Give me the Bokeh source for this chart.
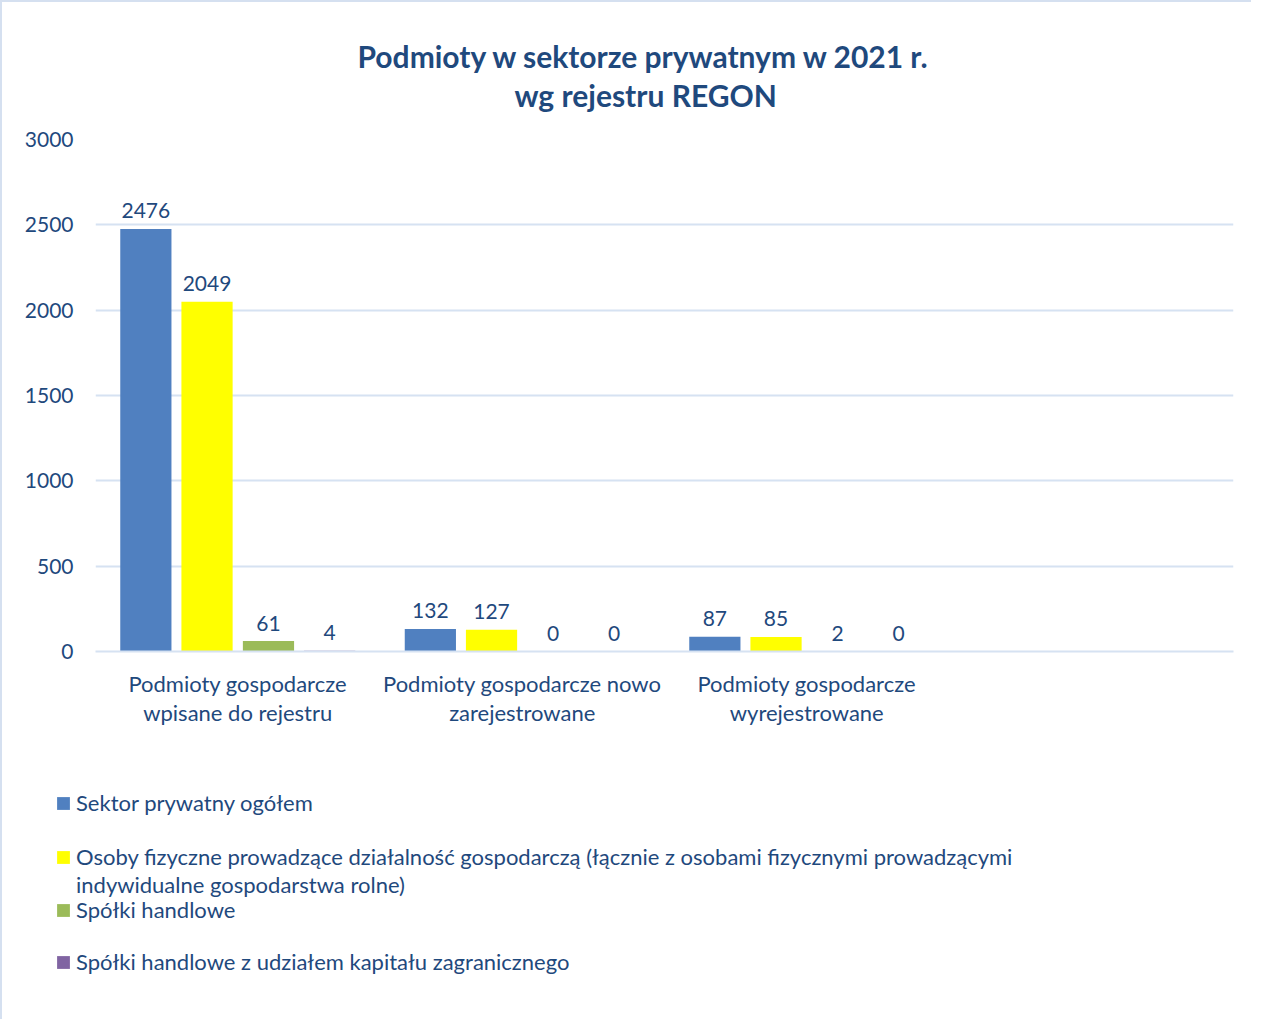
from bokeh.plotting import figure
from bokeh.layouts import column
from bokeh.models import ColumnDataSource, FactorRange, Legend, LegendItem, Title, FixedTicker
from bokeh.transform import dodge
from bokeh.core.properties import value
from bokeh.embed import file_html
from bokeh.resources import INLINE

# ---- data ----
categories = [
    "Podmioty gospodarcze\nwpisane do rejestru",
    "Podmioty gospodarcze nowo\nzarejestrowane",
    "Podmioty gospodarcze\nwyrejestrowane",
    " ",
]
series_names = [
    "Sektor prywatny ogółem",
    "Osoby fizyczne prowadzące działalność gospodarczą (łącznie z osobami fizycznymi prowadzącymi\nindywidualne gospodarstwa rolne)",
    "Spółki handlowe",
    "Spółki handlowe z udziałem kapitału zagranicznego",
]
sektor_ogolem = [2476, 132, 87]
osoby_fizyczne = [2049, 127, 85]
spolki_handlowe = [61, 0, 2]
spolki_zagraniczne = [4, 0, 0]
y_ticks = [0, 500, 1000, 1500, 2000, 2500, 3000]
title_lines = ["Podmioty w sektorze prywatnym w 2021 r.", "wg rejestru REGON"]

series_values = [sektor_ogolem, osoby_fizyczne, spolki_handlowe, spolki_zagraniczne]
colors = ["#5080C0", "#FFFF00", "#9BBB59", "#8064A2"]
offsets = [-0.323, -0.108, 0.108, 0.323]

TXT = "#1F497D"
GRID = "#D6E2F2"
BORDER = "2px solid #D5E0F0"
FONT = "Lato"

p = figure(
    x_range=FactorRange(*categories),
    y_range=(0, 3000),
    width=1251, height=749,
    output_backend="svg", toolbar_location=None,
    min_border_left=93, min_border_right=20,
    min_border_top=137, min_border_bottom=100,
)
p.styles = {"border-top": BORDER, "border-left": BORDER}
p.outline_line_color = None
p.background_fill_color = "white"
p.border_fill_color = "white"

# titles: a spacer next to the frame, then line 2, then line 1 on top
p.add_layout(Title(text=" ", text_font_size="1px", standoff=24), "above")
p.add_layout(Title(text=title_lines[1], align="left", offset=419, text_font=FONT,
                   text_font_size="30px", text_font_style="bold", text_color=TXT,
                   standoff=0), "above")
p.add_layout(Title(text=title_lines[0], align="left", offset=262, text_font=FONT,
                   text_font_size="30px", text_font_style="bold", text_color=TXT,
                   standoff=2), "above")

for vals, col, off in zip(series_values, colors, offsets):
    src = ColumnDataSource(dict(cat=categories[:len(vals)], val=vals,
                                lab=[str(v) for v in vals]))
    p.vbar(x=dodge("cat", off, range=p.x_range), top="val", width=0.18,
           source=src, fill_color=col, line_color=None)
    p.text(x=dodge("cat", off, range=p.x_range), y="val", text="lab", source=src,
           text_align="center", text_baseline="alphabetic", y_offset=-18,
           text_font=value(FONT), text_font_size="21px", text_color=TXT)

# axes
p.yaxis.ticker = FixedTicker(ticks=y_ticks)
p.yaxis.axis_line_color = None
p.yaxis.major_tick_line_color = None
p.yaxis.minor_tick_line_color = None
p.yaxis.major_label_standoff = 16
p.yaxis.major_label_text_font = FONT
p.yaxis.major_label_text_font_size = "21px"
p.yaxis.major_label_text_color = TXT

p.xaxis.axis_line_color = GRID
p.xaxis.axis_line_width = 2
p.xaxis.major_tick_line_color = None
p.xaxis.minor_tick_line_color = None
p.xaxis.major_label_standoff = 12
p.xaxis.major_label_text_font = FONT
p.xaxis.major_label_text_font_size = "22px"
p.xaxis.major_label_text_color = TXT
p.xaxis.major_label_text_line_height = 1.09

p.xgrid.grid_line_color = None
p.ygrid.grid_line_color = GRID
p.ygrid.grid_line_width = 2

# ---- legend figure ----
lf = figure(width=1251, height=270, x_range=(0, 1), y_range=(0, 1),
            output_backend="svg", toolbar_location=None,
            x_axis_location=None, y_axis_location=None,
            min_border=0, min_border_left=0, min_border_right=0,
            min_border_top=0, min_border_bottom=0)
lf.frame_align = False
lf.styles = {"border-left": BORDER}
lf.outline_line_color = None
lf.xgrid.visible = False
lf.ygrid.visible = False

# one legend block per text line (screen offsets of each line)
legend_lines = []
for name, col in zip(series_names, colors):
    for i, line in enumerate(name.split("\n")):
        legend_lines.append((line, col, 1.0 if i == 0 else 0.0))
legend_y = [203, 149, 121, 96, 44]

for (line, col, alpha), ly in zip(legend_lines, legend_y):
    r = lf.vbar(x=[0], top=[0], width=0.01, fill_color=col, fill_alpha=alpha,
                line_color=None)
    lg = Legend(items=[LegendItem(label=line, renderers=[r])], location=(53, ly),
                orientation="vertical",
                label_text_font=FONT, label_text_font_size="22px",
                label_text_color=TXT,
                glyph_width=16, glyph_height=16, label_standoff=5,
                label_height=20, spacing=0, padding=0, margin=0,
                border_line_color=None, background_fill_alpha=0)
    lf.add_layout(lg, "center")

layout = column(p, lf, spacing=0)
open("out.html", "w").write(file_html(layout, INLINE))
